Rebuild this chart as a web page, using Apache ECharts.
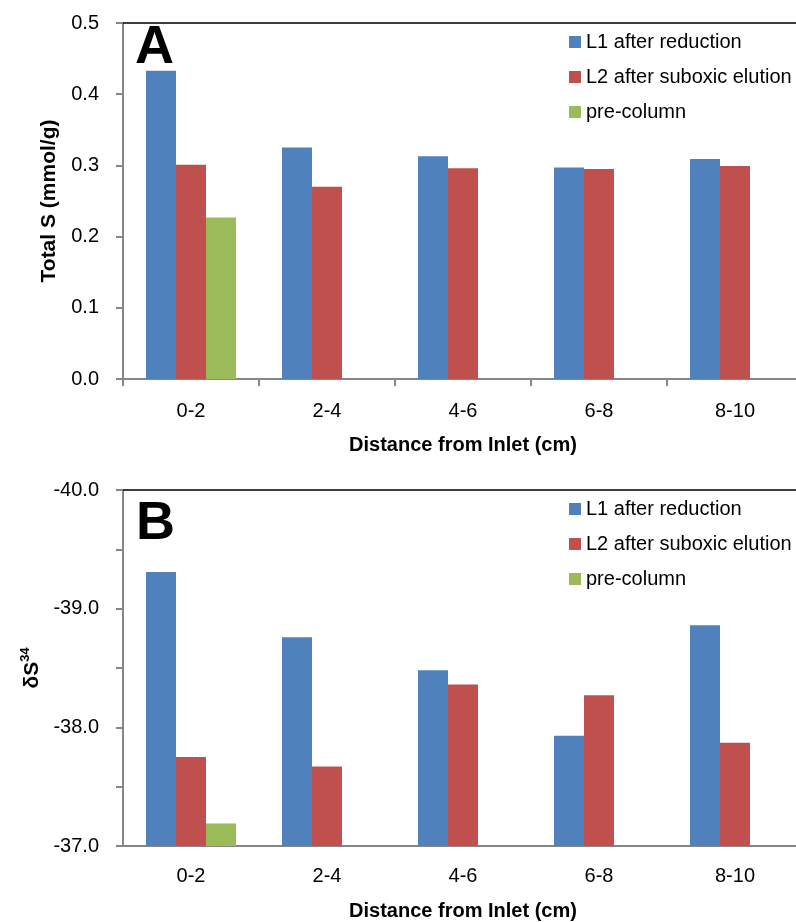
<!DOCTYPE html>
<html>
<head>
<meta charset="utf-8">
<script src="https://cdn.jsdelivr.net/npm/echarts@6/dist/echarts.min.js"></script>
<style>
  html, body { margin: 0; background: #ffffff; overflow: hidden; }
  /* plot area runs a little past the right edge, as in the original */
  #chart { width: 806px; height: 922px; }
</style>
</head>
<body>
<div id="chart"></div>
<script>
// categories
var categories = ["0-2", "2-4", "4-6", "6-8", "8-10"];
var seriesNames = ["L1 after reduction", "L2 after suboxic elution", "pre-column"];

// panel A: total S (mmol/g)
var totalS_L1 = [0.433, 0.325, 0.313, 0.297, 0.309];
var totalS_L2 = [0.301, 0.270, 0.296, 0.295, 0.299];
var totalS_pre = [0.227, null, null, null, null];

// panel B: delta S34
var d34_L1 = [-39.31, -38.76, -38.48, -37.93, -38.86];
var d34_L2 = [-37.75, -37.67, -38.36, -38.27, -37.87];
var d34_pre = [-37.19, null, null, null, null];

var colors = ["#4F81BD", "#C0504D", "#9BBB59"];
var font = "Liberation Sans";

// bottom axis is drawn flipped (-40 at top), so plot the magnitude
function flip(arr) {
  return arr.map(function (v) { return v == null ? null : -v; });
}

var myChart = echarts.init(document.getElementById("chart"));

function barSeries(name, data, xi, yi, idx) {
  return {
    name: name,
    type: "bar",
    xAxisIndex: xi,
    yAxisIndex: yi,
    data: data,
    barWidth: 30,
    barGap: "0%",
    itemStyle: { color: colors[idx] },
    emphasis: { disabled: true }
  };
}

var axisGray = "#868686";

function legendAt(top) {
  return {
    orient: "vertical",
    left: 564,
    top: top,
    itemWidth: 12,
    itemHeight: 12,
    itemGap: 15,
    icon: "rect",
    selectedMode: false,
    textStyle: { fontFamily: font, fontSize: 20, color: "#000", lineHeight: 20 },
    data: seriesNames
  };
}

var option = {
  animation: false,
  color: colors,
  grid: [
    { left: 123, top: 23, width: 680, height: 356 },
    { left: 123, top: 490, width: 680, height: 356 }
  ],
  legend: [legendAt(27), legendAt(494)],
  xAxis: [
    {
      type: "category",
      gridIndex: 0,
      data: categories,
      name: "Distance from Inlet (cm)",
      nameLocation: "middle",
      nameGap: 56,
      nameTextStyle: { fontFamily: font, fontSize: 20, fontWeight: "bold", color: "#000" },
      axisLine: { lineStyle: { color: axisGray, width: 2 } },
      axisTick: { show: true, length: 7, lineStyle: { color: axisGray, width: 2 } },
      axisLabel: { fontFamily: font, fontSize: 20, color: "#000", margin: 22 }
    },
    {
      type: "category",
      gridIndex: 0,
      position: "top",
      data: categories,
      axisLine: { lineStyle: { color: "#000", width: 1.5 } },
      axisTick: { show: false },
      axisLabel: { show: false }
    },
    {
      type: "category",
      gridIndex: 1,
      data: categories,
      name: "Distance from Inlet (cm)",
      nameLocation: "middle",
      nameGap: 55,
      nameTextStyle: { fontFamily: font, fontSize: 20, fontWeight: "bold", color: "#000" },
      axisLine: { lineStyle: { color: axisGray, width: 2 } },
      axisTick: { show: false },
      axisLabel: { fontFamily: font, fontSize: 20, color: "#000", margin: 20 }
    },
    {
      type: "category",
      gridIndex: 1,
      position: "top",
      data: categories,
      axisLine: { lineStyle: { color: "#000", width: 1.5 } },
      axisTick: { show: false },
      axisLabel: { show: false }
    }
  ],
  yAxis: [
    {
      type: "value",
      gridIndex: 0,
      min: 0,
      max: 0.5,
      interval: 0.1,
      name: "Total S (mmol/g)",
      nameLocation: "middle",
      nameRotate: 90,
      nameGap: 63,
      nameTextStyle: { fontFamily: font, fontSize: 21, fontWeight: "bold", color: "#000" },
      splitLine: { show: false },
      axisLine: { show: true, lineStyle: { color: axisGray, width: 2 } },
      axisTick: { show: true, length: 7, lineStyle: { color: axisGray, width: 2 } },
      axisLabel: {
        fontFamily: font, fontSize: 20, color: "#000", margin: 24,
        formatter: function (v) { return v.toFixed(1); }
      }
    },
    {
      type: "value",
      gridIndex: 1,
      min: 37,
      max: 40,
      interval: 0.5,
      name: "{a|δS}{b|34}",
      nameLocation: "middle",
      nameRotate: 90,
      nameGap: 63,
      nameTextStyle: {
        rich: {
          a: { fontFamily: font, fontSize: 21, fontWeight: "bold", color: "#000", verticalAlign: "bottom", lineHeight: 24 },
          b: { fontFamily: font, fontSize: 13, fontWeight: "bold", color: "#000", verticalAlign: "top", lineHeight: 24 }
        }
      },
      splitLine: { show: false },
      axisLine: { show: true, lineStyle: { color: axisGray, width: 2 } },
      axisTick: { show: true, length: 7, lineStyle: { color: axisGray, width: 2 } },
      axisLabel: {
        fontFamily: font, fontSize: 20, color: "#000", margin: 24,
        showMinLabel: true, showMaxLabel: true,
        formatter: function (v) {
          return Math.abs(v - Math.round(v)) < 1e-6 ? "-" + v.toFixed(1) : "";
        }
      }
    }
  ],
  graphic: [
    { type: "text", left: 135, top: 21, style: { text: "A", fontFamily: font, fontSize: 54, fontWeight: "bold", fill: "#000" } },
    { type: "text", left: 136, top: 497, style: { text: "B", fontFamily: font, fontSize: 54, fontWeight: "bold", fill: "#000" } }
  ],
  series: [
    barSeries(seriesNames[0], totalS_L1, 0, 0, 0),
    barSeries(seriesNames[1], totalS_L2, 0, 0, 1),
    barSeries(seriesNames[2], totalS_pre, 0, 0, 2),
    barSeries(seriesNames[0], flip(d34_L1), 2, 1, 0),
    barSeries(seriesNames[1], flip(d34_L2), 2, 1, 1),
    barSeries(seriesNames[2], flip(d34_pre), 2, 1, 2)
  ]
};

//设置echarts对象的option属性
myChart.setOption(option);
</script>
</body>
</html>
